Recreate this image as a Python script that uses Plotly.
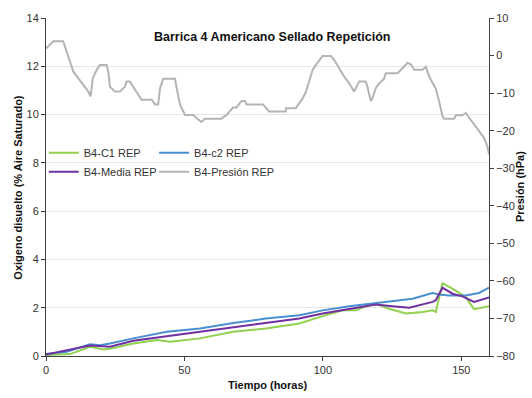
import plotly.graph_objects as go

# Dissolved oxygen (% air saturation) over time, two sensors and their mean
c1_hours = [0, 8.7, 15.9, 20.7, 23.1, 31.5, 40, 44.8, 55.6, 67.6, 79.4, 91.5, 99.9, 107.1,
            111.9, 115.5, 119.1, 123.9, 130, 136, 139.6, 140.8, 143.2, 146.8, 151.6, 154.6, 160]
c1_values = [0.04, 0.08, 0.38, 0.27, 0.30, 0.52, 0.66, 0.59, 0.73, 1.00, 1.14, 1.35, 1.65, 1.89,
             1.89, 2.06, 2.17, 1.96, 1.76, 1.82, 1.89, 1.82, 3.01, 2.79, 2.44, 1.94, 2.06]

c2_hours = [0, 7.5, 15.9, 19.5, 23.1, 31.5, 43.6, 55.6, 67.6, 79.4, 91.5, 99.9, 109.5,
            119.1, 125.1, 132.4, 139.6, 142, 145.6, 151.6, 156.4, 160]
c2_values = [0.08, 0.18, 0.49, 0.45, 0.52, 0.73, 1.00, 1.14, 1.37, 1.55, 1.69, 1.89, 2.06,
             2.19, 2.24, 2.37, 2.61, 2.55, 2.51, 2.51, 2.61, 2.83]

media_hours = [0, 15.9, 23.1, 31.5, 43.6, 55.6, 67.6, 79.4, 91.5, 99.9, 109.5, 119.1, 125.1,
               131.2, 139.6, 140.8, 143.2, 146.8, 150.4, 154.6, 160]
media_values = [0.06, 0.43, 0.38, 0.63, 0.82, 1.00, 1.18, 1.35, 1.55, 1.76, 1.96, 2.13, 2.06,
                2.00, 2.24, 2.31, 2.83, 2.58, 2.47, 2.24, 2.42]

# Barrel pressure (hPa)
pres_hours = [0, 1.4, 2.6, 6.2, 7.5, 8.7, 9.9, 11.7, 13.5, 15.3, 16.1, 16.9, 18.3, 19.5, 21.9,
              22.5, 23.1, 24.9, 26.7, 28.5, 29.1, 30.3, 31.5, 32.7, 34.5, 38.2, 39.4, 40.5,
              41.2, 42.3, 46.6, 47.2, 48.4, 50.2, 53.2, 54.4, 56.2, 57.4, 63.4, 65.2, 66.4,
              67.6, 68.8, 70.6, 71.8, 72.5, 78.4, 79.7, 80.6, 86.6, 86.7, 90.2, 91.4, 92.7,
              93.9, 95.1, 96.3, 97.5, 98.7, 99.9, 102.9, 104.1, 105.9, 107.7, 109.5, 111.3,
              112.5, 113.1, 115.5, 116.1, 117.3, 117.9, 119.1, 120.3, 122.1, 122.7, 127.0,
              128.1, 129.3, 130.6, 131.8, 133.0, 136.0, 137.2, 138.4, 139.6, 140.8, 142.0,
              143.2, 143.8, 147.4, 148.0, 150.4, 151.6, 152.2, 154.0, 156.4, 158.2, 159.4, 160]
pres_values = [1.9, 2.9, 3.8, 3.8, 1.0, -2.1, -4.3, -6.1, -7.8, -9.6, -10.9, -6.1, -3.8, -2.5,
               -2.5, -4.3, -8.3, -9.6, -9.6, -8.3, -6.9, -6.9, -8.3, -9.6, -11.8, -11.8, -13.0,
               -13.0, -8.7, -6.2, -6.2, -8.7, -13.1, -15.8, -15.8, -16.7, -17.7, -16.8, -16.8,
               -15.8, -14.9, -13.8, -13.8, -12.1, -12.1, -13.0, -13.0, -14.0, -14.9, -14.9,
               -14.0, -14.0, -12.7, -11.4, -9.6, -6.9, -3.8, -2.5, -1.2, -0.1, -0.1, -1.2,
               -3.4, -5.6, -7.4, -9.6, -7.8, -6.9, -6.9, -8.3, -12.1, -11.4, -8.7, -7.4, -6.2,
               -4.7, -4.7, -3.8, -3.0, -1.9, -2.4, -3.8, -3.8, -3.0, -5.6, -7.4, -8.9, -12.2,
               -16.2, -16.8, -16.8, -15.9, -15.9, -15.3, -15.9, -17.5, -20.2, -21.9, -24.1, -26.3]

title_text = "Barrica 4 Americano Sellado Repetición"
x_title = "Tiempo (horas)"
y_title = "Oxigeno disuelto (% Aire Saturado)"
y2_title = "Presión (hPa)"

FONT = "Liberation Sans, Arial, sans-serif"
TXT = "#333333"

fig = go.Figure()
fig.add_trace(go.Scatter(x=c1_hours, y=c1_values, name="B4-C1 REP", mode="lines",
                         line=dict(color="#92d050", width=2), legend="legend"))
fig.add_trace(go.Scatter(x=c2_hours, y=c2_values, name="B4-c2 REP", mode="lines",
                         line=dict(color="#4a8fd0", width=2), legend="legend2"))
fig.add_trace(go.Scatter(x=media_hours, y=media_values, name="B4-Media REP", mode="lines",
                         line=dict(color="#7030a0", width=2), legend="legend"))
fig.add_trace(go.Scatter(x=pres_hours, y=pres_values, name="B4-Presión REP", mode="lines",
                         line=dict(color="#b4b4b4", width=2), yaxis="y2", legend="legend2"))

legend_style = dict(font=dict(family=FONT, size=11, color=TXT), bgcolor="rgba(0,0,0,0)",
                    yanchor="top", xanchor="left", tracegroupgap=0, itemwidth=30)

fig.update_layout(
    width=532, height=398,
    margin=dict(l=46, r=43, t=16, b=42),
    paper_bgcolor="white", plot_bgcolor="white",
    font=dict(family=FONT, size=11, color=TXT),
    showlegend=True,
    legend=dict(x=-0.005, y=0.644, **legend_style),
    legend2=dict(x=0.244, y=0.644, **legend_style),
    xaxis=dict(range=[0, 160], tickvals=[0, 50, 100, 150], showgrid=False, zeroline=False,
               showline=True, linecolor="#404040", linewidth=1, ticks="outside", ticklen=4,
               tickcolor="#404040", tickfont=dict(size=11, color=TXT)),
    yaxis=dict(range=[0, 14], dtick=2, showgrid=True, gridcolor="#e6e6e6", gridwidth=1,
               zeroline=False, showline=True, linecolor="#404040", linewidth=1,
               ticks="outside", ticklen=4, tickcolor="#404040", tickfont=dict(size=11, color=TXT)),
    yaxis2=dict(range=[-80, 10], dtick=10, overlaying="y", side="right", showgrid=False,
                zeroline=False, showline=True, linecolor="#404040", linewidth=1,
                ticks="outside", ticklen=4, tickcolor="#404040", tickfont=dict(size=11, color=TXT)),
)

fig.add_annotation(text="<b>" + title_text + "</b>", xref="paper", yref="paper",
                   x=0.511, y=0.943, showarrow=False, xanchor="center", yanchor="middle",
                   font=dict(family=FONT, size=12.5, color="#111111"))
fig.add_annotation(text="<b>" + x_title + "</b>", xref="paper", yref="paper",
                   x=0.502, y=-0.085, showarrow=False, xanchor="center", yanchor="middle",
                   font=dict(family=FONT, size=11, color="#111111"))
fig.add_annotation(text="<b>" + y_title + "</b>", xref="paper", yref="paper",
                   x=-0.064, y=0.5, showarrow=False, xanchor="center", yanchor="middle",
                   textangle=-90, font=dict(family=FONT, size=11, color="#111111"))
fig.add_annotation(text="<b>" + y2_title + "</b>", xref="paper", yref="paper",
                   x=1.07, y=0.5, showarrow=False, xanchor="center", yanchor="middle",
                   textangle=-90, font=dict(family=FONT, size=11, color="#111111"))

fig.write_html("out.html")
